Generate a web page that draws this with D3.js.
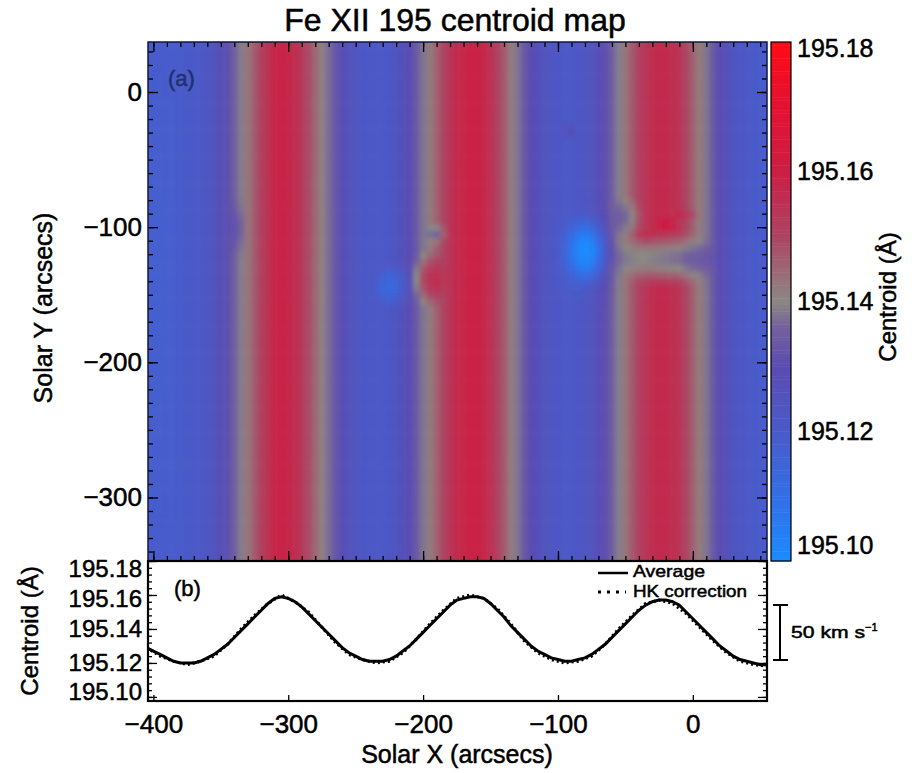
<!DOCTYPE html>
<html>
<head>
<meta charset="utf-8">
<script src="https://cdn.jsdelivr.net/npm/d3@7"></script>
<style>
  body { margin: 0; background: #fff; }
  text { font-family: "Liberation Sans", Arial, Helvetica, sans-serif; fill: #000; stroke: #000; stroke-width: 0.5px; }
  text.panel-a { fill: #22306e; stroke: #22306e; }
</style>
</head>
<body>
<svg id="chart" width="912" height="773"></svg>
<script>
// Solar X positions (arcsec) of the averaged centroid profile
const solarX = [
  -405, -400, -395, -390, -385, -380, -375, -370, -365, -360,
  -355, -350, -345, -340, -335, -330, -325, -320, -315, -310,
  -305, -300, -295, -290, -285, -280, -275, -270, -265, -260,
  -255, -250, -245, -240, -235, -230, -225, -220, -215, -210,
  -205, -200, -195, -190, -185, -180, -175, -170, -165, -160,
  -155, -150, -145, -140, -135, -130, -125, -120, -115, -110,
  -105, -100, -95, -90, -85, -80, -75, -70, -65, -60,
  -55, -50, -45, -40, -35, -30, -25, -20, -15, -10,
  -5, 0, 5, 10, 15, 20, 25, 30, 35, 40,
  45, 50, 55
];
// "Average" centroid (Angstrom)
const avgCentroid = [
  195.129, 195.127, 195.125, 195.123, 195.121, 195.120, 195.120, 195.120, 195.121, 195.123,
  195.125, 195.128, 195.131, 195.135, 195.139, 195.143, 195.147, 195.151, 195.155, 195.158,
  195.159, 195.158, 195.156, 195.153, 195.149, 195.145, 195.141, 195.137, 195.133, 195.129,
  195.126, 195.124, 195.122, 195.121, 195.121, 195.121, 195.122, 195.124, 195.127, 195.130,
  195.134, 195.138, 195.142, 195.146, 195.150, 195.154, 195.157, 195.158, 195.159, 195.159,
  195.158, 195.155, 195.151, 195.147, 195.142, 195.138, 195.134, 195.130, 195.127, 195.125,
  195.123, 195.122, 195.121, 195.121, 195.122, 195.123, 195.125, 195.128, 195.131, 195.135,
  195.139, 195.143, 195.147, 195.151, 195.154, 195.156, 195.157, 195.157, 195.156, 195.154,
  195.150, 195.146, 195.142, 195.138, 195.134, 195.130, 195.127, 195.124, 195.122, 195.121,
  195.120, 195.119, 195.119
];
// "HK correction" curve
const hkX = [
  -405, -395, -385, -375, -365, -355, -345, -335, -325, -315,
  -305, -295, -285, -275, -265, -255, -245, -235, -225, -215,
  -205, -195, -185, -175, -165, -155, -145, -135, -125, -115,
  -105, -95, -85, -75, -65, -55, -45, -35, -25, -15,
  -5, 5, 15, 25, 35, 45, 55
];
const hkCentroid = [
  195.129, 195.124, 195.121, 195.119, 195.121, 195.124, 195.131, 195.140, 195.148, 195.155,
  195.160, 195.156, 195.150, 195.141, 195.132, 195.125, 195.122, 195.120, 195.121, 195.126,
  195.134, 195.143, 195.151, 195.158, 195.160, 195.158, 195.152, 195.143, 195.133, 195.126,
  195.122, 195.120, 195.121, 195.124, 195.131, 195.140, 195.148, 195.155, 195.157, 195.155,
  195.149, 195.141, 195.133, 195.126, 195.121, 195.119, 195.118
];
// local departures of the map from the column profile (centre, radii in arcsec, shift in A)
const featX  = [-414, -78, -80, -20, -48, -36, -20, -4, -196, -222, -190, -92, -338];
const featY  = [-150, -117, -120, -123, -92, -106, -98, -90, -138, -143, -104, -28, -100];
const featRx = [40, 22, 34, 42, 14, 12, 12, 12, 16, 18, 9, 6, 8];
const featRy = [700, 32, 48, 24, 18, 6, 6, 6, 24, 20, 9, 6, 26];
const featDv = [-0.012, -0.020, -0.004, -0.019, -0.007, 0.004, 0.005, 0.004, 0.013, -0.010, -0.010, 0.012, -0.004];

const xMajor = [-400, -300, -200, -100, 0];
const yMapMajor = [-300, -200, -100, 0];
const lowMajor = [195.10, 195.12, 195.14, 195.16, 195.18];
const barTicks = [195.10, 195.12, 195.14, 195.16, 195.18];

// colour table
const cmapValues = [195.10, 195.11, 195.12, 195.13, 195.136, 195.14, 195.144, 195.15, 195.16, 195.17, 195.18];
const cmapColors = ["#1a8cff", "#336ee6", "#4a5ac8", "#5a4cb2", "#74609c", "#8a8884", "#9a6e78", "#ac4464", "#cc1e44", "#e41232", "#ff0a14"];

const svg = d3.select("#chart");
const L = 148, R = 767, T = 42, M = 561, B = 701;

const x = d3.scaleLinear().domain([-404, 55]).range([L, R]);
const yMap = d3.scaleLinear().domain([-347, 37]).range([M, T]);
const yLow = d3.scaleLinear().domain([195.0976, 195.18]).range([B, M]);
const yBar = d3.scaleLinear().domain([195.10, 195.18]).range([M, T]);
const color = d3.scaleLinear().domain(cmapValues).range(cmapColors).clamp(true);

const defs = svg.append("defs");
defs.append("clipPath").attr("id", "mapClip").append("rect")
  .attr("x", L).attr("y", T).attr("width", R - L).attr("height", M - T);
defs.append("clipPath").attr("id", "lowClip").append("rect")
  .attr("x", L).attr("y", M).attr("width", R - L).attr("height", B - M);
defs.append("filter").attr("id", "soft")
  .append("feGaussianBlur").attr("stdDeviation", 2);

// title
svg.append("text").attr("x", 455).attr("y", 31).attr("text-anchor", "middle")
  .attr("font-size", 32).text("Fe XII 195 centroid map");

// ---- map (a)
const cells = [];
const rowsY = d3.range(-350, 45, 5);
rowsY.forEach(yv => {
  solarX.forEach((xv, i) => {
    let v = avgCentroid[i];
    featX.forEach((fx, k) => {
      const dx = (xv - fx) / featRx[k], dy = (yv - featY[k]) / featRy[k];
      const t = 1 - dx * dx - dy * dy;
      if (t > 0) v += featDv[k] * t * t;
    });
    cells.push({x: xv, y: yv, v: v, edge: i === 0 ? -1 : (i === solarX.length - 1 ? 1 : 0)});
  });
});

const cw = x(2.5) - x(-2.5);
svg.append("g").attr("clip-path", "url(#mapClip)")
  .append("g").attr("filter", "url(#soft)")
  .selectAll("rect").data(cells).enter().append("rect")
  .attr("x", d => x(d.x - 2.5) - (d.edge < 0 ? 10 : 0))
  .attr("y", d => yMap(d.y + 2.5))
  .attr("width", d => cw + 0.6 + (d.edge !== 0 ? 10 : 0))
  .attr("height", d => yMap(d.y - 2.5) - yMap(d.y + 2.5) + 0.6)
  .attr("fill", d => color(d.v));

function styleAxis(g, size) {
  g.select(".domain").remove();
  g.selectAll(".tick line").attr("stroke", "#000").attr("stroke-width", 1.3);
  g.selectAll(".tick text").attr("font-size", size || 26)
    .attr("font-family", "'Liberation Sans', Arial, sans-serif").attr("fill", "#000");
}

const xMinor = d3.range(-400, 56, 10);
const yMinor = d3.range(-340, 37, 10);
// map ticks (pointing inward)
svg.append("g").attr("transform", `translate(0,${T})`)
  .call(d3.axisTop(x).tickValues(xMinor).tickSize(-5).tickFormat("")).call(styleAxis);
svg.append("g").attr("transform", `translate(0,${T})`)
  .call(d3.axisTop(x).tickValues(xMajor).tickSize(-10).tickFormat("")).call(styleAxis);
svg.append("g").attr("transform", `translate(0,${M})`)
  .call(d3.axisBottom(x).tickValues(xMinor).tickSize(-5).tickFormat("")).call(styleAxis);
svg.append("g").attr("transform", `translate(0,${M})`)
  .call(d3.axisBottom(x).tickValues(xMajor).tickSize(-10).tickFormat("")).call(styleAxis);
svg.append("g").attr("transform", `translate(${L},0)`)
  .call(d3.axisLeft(yMap).tickValues(yMinor).tickSize(-5).tickFormat("")).call(styleAxis);
svg.append("g").attr("transform", `translate(${L},0)`)
  .call(d3.axisLeft(yMap).tickValues(yMapMajor).tickSize(-10).tickPadding(6)
    .tickFormat(d => d === 0 ? "0" : "\u2212" + Math.abs(d))).call(styleAxis);
svg.append("g").attr("transform", `translate(${R},0)`)
  .call(d3.axisRight(yMap).tickValues(yMinor).tickSize(-5).tickFormat("")).call(styleAxis);
svg.append("g").attr("transform", `translate(${R},0)`)
  .call(d3.axisRight(yMap).tickValues(yMapMajor).tickSize(-10).tickFormat("")).call(styleAxis);

svg.append("rect").attr("x", L).attr("y", T).attr("width", R - L).attr("height", M - T)
  .attr("fill", "none").attr("stroke", "#111a40").attr("stroke-width", 1.5);

svg.append("text").attr("class", "panel-a").attr("x", 168).attr("y", 86)
  .attr("font-size", 22).text("(a)");

svg.append("text")
  .attr("transform", "translate(52,308) rotate(-90)")
  .attr("text-anchor", "middle").attr("font-size", 25).text("Solar Y (arcsecs)");

// ---- colour bar
const barSteps = d3.range(0, 160).map(k => 195.10 + k * 0.0005);
svg.append("g").selectAll("rect").data(barSteps).enter().append("rect")
  .attr("x", 771).attr("width", 20)
  .attr("y", d => yBar(d + 0.0005))
  .attr("height", d => Math.max(0, yBar(d) - yBar(d + 0.0005)) + 0.5)
  .attr("fill", d => color(d + 0.00025));
svg.append("rect").attr("x", 771).attr("y", T).attr("width", 20).attr("height", M - T)
  .attr("fill", "none").attr("stroke", "#000").attr("stroke-width", 1.2);
const barAxis = svg.append("g").attr("transform", "translate(791,0)")
  .call(d3.axisRight(yBar).tickValues(barTicks).tickSize(0).tickPadding(6).tickFormat(d3.format(".2f")))
  .call(g => styleAxis(g, 25));
barAxis.selectAll(".tick text").attr("dy", d => d === 195.18 ? "0.56em" : (d === 195.10 ? "-0.32em" : "0.32em"));
svg.append("text")
  .attr("transform", "translate(896,297) rotate(-90)")
  .attr("text-anchor", "middle").attr("font-size", 24).text("Centroid (\u00c5)");

// ---- profile (b)
const lowMinor = d3.range(0, 21).map(k => 195.10 + k * 0.004);
svg.append("g").attr("transform", `translate(${L},0)`)
  .call(d3.axisLeft(yLow).tickValues(lowMinor).tickSize(-4).tickFormat("")).call(styleAxis);
const lowLeft = svg.append("g").attr("transform", `translate(${L},0)`)
  .call(d3.axisLeft(yLow).tickValues(lowMajor).tickSize(-9).tickPadding(6).tickFormat(d3.format(".2f")))
  .call(g => styleAxis(g, 24));
lowLeft.selectAll(".tick text").attr("dy", d => d === 195.18 ? "0.64em" : (d === 195.16 ? "0.47em" : (d === 195.10 ? "0.12em" : "0.32em")));
svg.append("g").attr("transform", `translate(${R},0)`)
  .call(d3.axisRight(yLow).tickValues(lowMinor).tickSize(-4).tickFormat("")).call(styleAxis);
svg.append("g").attr("transform", `translate(${R},0)`)
  .call(d3.axisRight(yLow).tickValues(lowMajor).tickSize(-9).tickFormat("")).call(styleAxis);
svg.append("g").attr("transform", `translate(0,${B})`)
  .call(d3.axisBottom(x).tickValues(xMajor).tickSize(-6).tickPadding(14)
    .tickFormat(d => d === 0 ? "0" : "\u2212" + Math.abs(d))).call(styleAxis);

const line = d3.line().x(d => x(d[0])).y(d => yLow(d[1]));
const plot = svg.append("g").attr("clip-path", "url(#lowClip)");
plot.append("path").datum(solarX.map((v, i) => [v, avgCentroid[i]]))
  .attr("d", line).attr("fill", "none").attr("stroke", "#000").attr("stroke-width", 3);
plot.append("path").datum(hkX.map((v, i) => [v, hkCentroid[i]]))
  .attr("d", line).attr("fill", "none").attr("stroke", "#000").attr("stroke-width", 3)
  .attr("stroke-dasharray", "2,3");

svg.append("rect").attr("x", L).attr("y", M).attr("width", R - L).attr("height", B - M)
  .attr("fill", "none").attr("stroke", "#000").attr("stroke-width", 2.2);

svg.append("text").attr("x", 174).attr("y", 596).attr("font-size", 22).text("(b)");

// legend
svg.append("line").attr("x1", 598).attr("x2", 628).attr("y1", 573).attr("y2", 573)
  .attr("stroke", "#000").attr("stroke-width", 2.5);
svg.append("text").attr("x", 633).attr("y", 577).attr("font-size", 17)
  .attr("textLength", 72).attr("lengthAdjust", "spacingAndGlyphs").text("Average");
svg.append("line").attr("x1", 598).attr("x2", 626).attr("y1", 592).attr("y2", 592)
  .attr("stroke", "#000").attr("stroke-width", 3).attr("stroke-dasharray", "3,6");
svg.append("text").attr("x", 633).attr("y", 597).attr("font-size", 17)
  .attr("textLength", 114).attr("lengthAdjust", "spacingAndGlyphs").text("HK correction");

// 50 km/s scale bar
const bar = svg.append("g").attr("stroke", "#000").attr("stroke-width", 2);
bar.append("line").attr("x1", 780).attr("x2", 780).attr("y1", 605).attr("y2", 660);
bar.append("line").attr("x1", 773).attr("x2", 788).attr("y1", 605).attr("y2", 605);
bar.append("line").attr("x1", 773).attr("x2", 788).attr("y1", 660).attr("y2", 660);
const kms = svg.append("text").attr("x", 791).attr("y", 638).attr("font-size", 17);
kms.append("tspan").attr("textLength", 74).attr("lengthAdjust", "spacingAndGlyphs").text("50 km s");
kms.append("tspan").attr("dy", -7).attr("font-size", 11).text("\u22121");

svg.append("text")
  .attr("transform", "translate(38,631) rotate(-90)")
  .attr("text-anchor", "middle").attr("font-size", 24).text("Centroid (\u00c5)");
svg.append("text").attr("x", 457).attr("y", 763).attr("text-anchor", "middle")
  .attr("font-size", 25).text("Solar X (arcsecs)");
</script>
</body>
</html>
